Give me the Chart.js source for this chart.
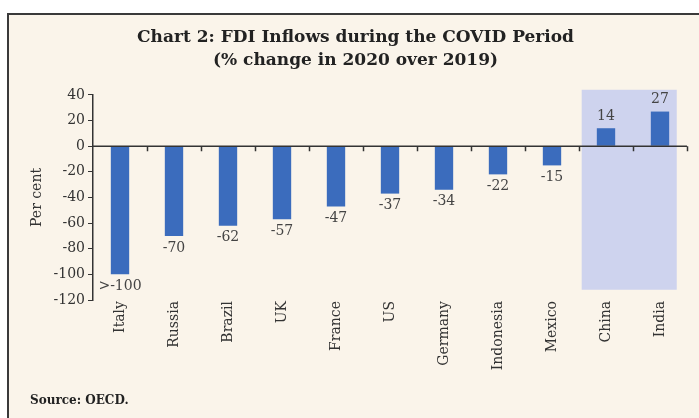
<!DOCTYPE html>
<html>
<head>
<meta charset="utf-8">
<script src="https://cdn.jsdelivr.net/npm/chart.js@4"></script>
<style>
  body { margin: 0; background: #fff; width: 699px; height: 418px; overflow: hidden; position: relative; }
  #frame { position: absolute; left: 7px; top: 13px; width: 700px; height: 420px;
           border-left: 2px solid #3a3a3a; border-top: 2px solid #3a3a3a; background: #faf4ea; }
  #wrap { position: absolute; left: 0; top: 0; width: 699px; height: 418px; }
  #source { position: absolute; left: 30px; top: 393px; font: bold 12px "DejaVu Serif", serif; color: #222; }
</style>
</head>
<body>
<div id="frame"></div>
<div id="wrap"><canvas id="fdiChart"></canvas></div>
<div id="source">Source: OECD.</div>
<script>
const categories = ["Italy", "Russia", "Brazil", "UK", "France", "US", "Germany", "Indonesia", "Mexico", "China", "India"];
const changes = [-100, -70, -62, -57, -47, -37, -34, -22, -15, 14, 27];
const valueLabels = [">-100", "-70", "-62", "-57", "-47", "-37", "-34", "-22", "-15", "14", "27"];
const highlighted = ["China", "India"];
const yMin = -120, yMax = 40, yStep = 20;

const serif = "'DejaVu Serif', serif";

// shaded box behind China/India, zero line with tick marks, value labels
const decor = {
  id: "decor",
  beforeDatasetsDraw(chart) {
    const x = chart.scales.x, y = chart.scales.y;
    const step = x.getPixelForValue(1) - x.getPixelForValue(0);
    const first = categories.indexOf(highlighted[0]);
    const last = categories.indexOf(highlighted[highlighted.length - 1]);
    const left = x.getPixelForValue(first) - step * 0.45;
    const right = x.getPixelForValue(last) + step * 0.31;
    const top = y.getPixelForValue(44);
    const bottom = y.getPixelForValue(-112);
    const ctx = chart.ctx;
    ctx.save();
    ctx.fillStyle = "#ced3ee";
    ctx.fillRect(left, top, right - left, bottom - top);
    ctx.restore();
  },
  afterDatasetsDraw(chart) {
    const x = chart.scales.x, y = chart.scales.y;
    const ctx = chart.ctx;
    const zero = y.getPixelForValue(0);
    const step = x.getPixelForValue(1) - x.getPixelForValue(0);
    ctx.save();
    ctx.strokeStyle = "#333";
    ctx.lineWidth = 1.5;
    ctx.beginPath();
    ctx.moveTo(chart.chartArea.left, zero);
    ctx.lineTo(chart.chartArea.right, zero);
    for (let i = 0; i < categories.length; i++) {
      const px = Math.round(x.getPixelForValue(i) + step / 2) + 0.5;
      ctx.moveTo(px, zero);
      ctx.lineTo(px, zero + 5);
    }
    ctx.stroke();

    ctx.fillStyle = "#444";
    ctx.font = "14px " + serif;
    ctx.textAlign = "center";
    ctx.textBaseline = "middle";
    const meta = chart.getDatasetMeta(0);
    meta.data.forEach((bar, i) => {
      const off = changes[i] < 0 ? 12 : -12;
      ctx.fillText(valueLabels[i], bar.x, bar.y + off);
    });
    ctx.restore();
  }
};

new Chart(document.getElementById("fdiChart"), {
  type: "bar",
  data: {
    labels: categories,
    datasets: [{
      data: changes,
      backgroundColor: "#3b6cbd",
      barPercentage: 0.34,
      categoryPercentage: 1
    }]
  },
  options: {
    responsive: true,
    maintainAspectRatio: false,
    animation: false,
    layout: { padding: { left: 24, right: 12, top: 0, bottom: 40 } },
    plugins: {
      legend: { display: false },
      tooltip: { enabled: false },
      title: {
        display: true,
        text: ["Chart 2: FDI Inflows during the COVID Period", "(% change in 2020 over 2019)"],
        color: "#222",
        font: { family: serif, size: 17, weight: "bold", lineHeight: 1.35 },
        padding: { top: 26, bottom: 23 }
      }
    },
    scales: {
      x: {
        grid: { display: false, drawTicks: false },
        border: { display: false },
        ticks: {
          color: "#333",
          font: { family: serif, size: 14 },
          minRotation: 90,
          maxRotation: 90,
          padding: 1
        },
        afterFit(scale) { scale.height = 78; }
      },
      y: {
        min: yMin,
        max: yMax,
        border: { display: true, color: "#333", width: 1.5 },
        grid: { drawOnChartArea: false, drawTicks: true, tickLength: 5, color: "#333" },
        ticks: { stepSize: yStep, color: "#333", font: { family: serif, size: 14 }, padding: 3 },
        title: { display: true, text: "Per cent", color: "#333", font: { family: serif, size: 14 }, padding: 5 },
        afterFit(scale) { scale.width = 69; }
      }
    }
  },
  plugins: [decor]
});
</script>
</body>
</html>
